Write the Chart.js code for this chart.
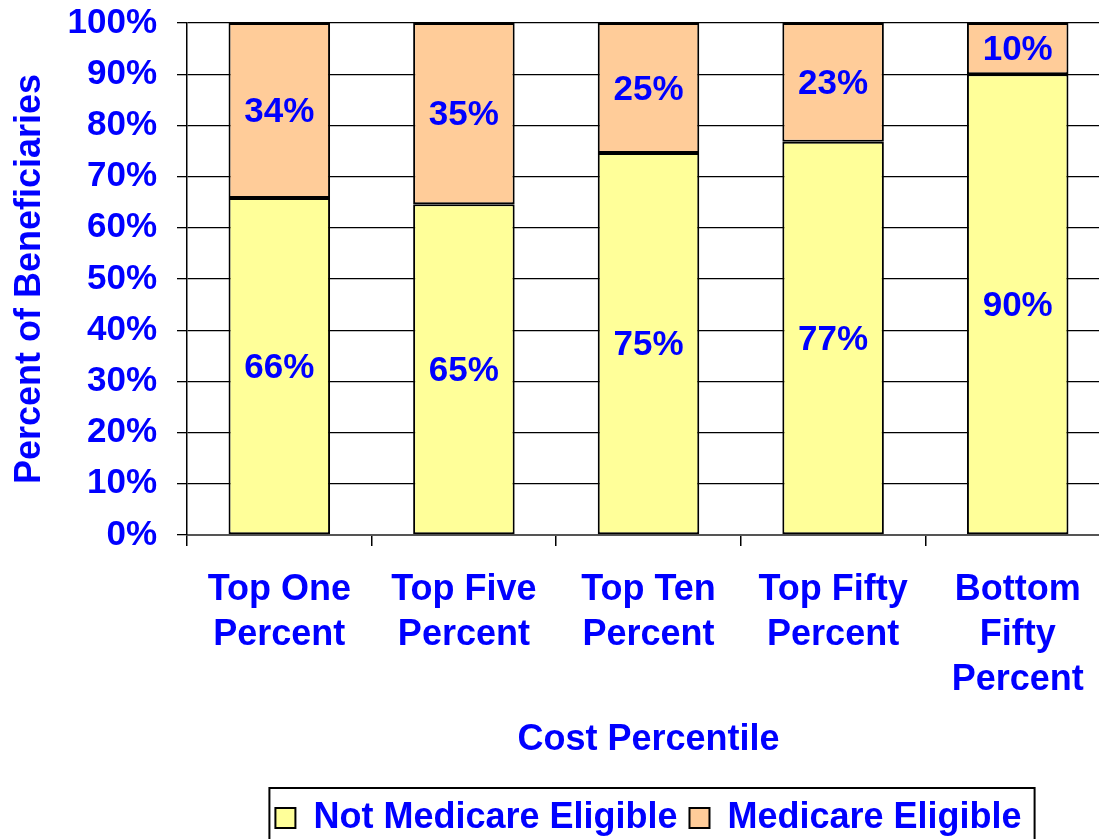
<!DOCTYPE html>
<html>
<head>
<meta charset="utf-8">
<script src="https://cdn.jsdelivr.net/npm/chart.js@4"></script>
<style>
  html, body { margin: 0; padding: 0; background: #fff; overflow: hidden; }
  #wrap { width: 1110px; height: 846px; }
</style>
</head>
<body>
<div id="wrap"><canvas id="chart"></canvas></div>
<script>
// values
var categories = [
  ['Top One', 'Percent'],
  ['Top Five', 'Percent'],
  ['Top Ten', 'Percent'],
  ['Top Fifty', 'Percent'],
  ['Bottom', 'Fifty', 'Percent']
];
var notEligible = [65.8, 64.6, 74.6, 76.8, 90.0];
var eligible = [34.2, 35.4, 25.4, 23.2, 10.0];
var yTicks = [0, 10, 20, 30, 40, 50, 60, 70, 80, 90, 100];

var FONT = '"Liberation Sans", Arial, sans-serif';
var BLUE = '#0000FF';

// percent labels in the middle of each segment
var barLabels = {
  id: 'barLabels',
  afterDatasetsDraw: function (chart) {
    var ctx = chart.ctx;
    ctx.save();
    ctx.font = 'bold 35px ' + FONT;
    ctx.fillStyle = BLUE;
    ctx.textAlign = 'center';
    ctx.textBaseline = 'middle';
    chart.data.datasets.forEach(function (ds, i) {
      chart.getDatasetMeta(i).data.forEach(function (bar, j) {
        ctx.fillText(Math.round(ds.data[j]) + '%', bar.x, (bar.y + bar.base) / 2 + 2);
      });
    });
    ctx.restore();
  }
};

// frame round the legend
var legendFrame = {
  id: 'legendFrame',
  afterDraw: function (chart) {
    var boxes = chart.legend.legendHitBoxes;
    if (!boxes || !boxes.length) return;
    var left = boxes[0].left - 6;
    var last = boxes[boxes.length - 1];
    var right = last.left + last.width + 13;
    var top = chart.legend.top;
    var ctx = chart.ctx;
    ctx.save();
    ctx.strokeStyle = '#000';
    ctx.lineWidth = 2;
    ctx.strokeRect(left, top, right - left, chart.height - top + 10);
    ctx.restore();
  }
};

var ctx = document.getElementById('chart');
new Chart(ctx, {
  type: 'bar',
  data: {
    labels: categories,
    datasets: [{
      label: 'Not Medicare Eligible',
      data: notEligible,
      backgroundColor: '#FFFF99',
      borderColor: '#000',
      borderWidth: 2,
      borderSkipped: false
    }, {
      label: 'Medicare Eligible',
      data: eligible,
      backgroundColor: '#FFCC99',
      borderColor: '#000',
      borderWidth: 2,
      borderSkipped: false
    }]
  },
  options: {
    responsive: true,
    maintainAspectRatio: false,
    animation: false,
    layout: { padding: { top: 23, left: 0, right: 0, bottom: 0 } },
    categoryPercentage: 1,
    barPercentage: 0.55,
    scales: {
      x: {
        stacked: true,
        grid: { offset: true, drawOnChartArea: false, tickLength: 11, color: '#000', lineWidth: 1.5 },
        border: { display: true, color: '#555', width: 2 },
        ticks: {
          color: BLUE,
          padding: 22,
          font: { family: FONT, size: 36, weight: 'bold', lineHeight: 1.25 },
          maxRotation: 0,
          autoSkip: false
        },
        title: {
          display: true,
          text: 'Cost Percentile',
          color: BLUE,
          font: { family: FONT, size: 36, weight: 'bold', lineHeight: 1.2 },
          padding: { top: 0, bottom: 26 }
        },
        afterFit: function (s) { s.height = 253; }
      },
      y: {
        stacked: true,
        min: 0,
        max: 100,
        afterBuildTicks: function (s) { s.ticks = yTicks.map(function (v) { return { value: v }; }); },
        grid: { color: '#000', lineWidth: 1.3, tickLength: 10 },
        border: { display: true, color: '#000', width: 1.5 },
        ticks: {
          color: BLUE,
          padding: 20,
          font: { family: FONT, size: 35, weight: 'bold', lineHeight: '6px' },
          callback: function (v) { return v + '%'; }
        },
        title: {
          display: true,
          text: 'Percent of Beneficiaries',
          color: BLUE,
          font: { family: FONT, size: 36, weight: 'bold', lineHeight: 1.2 },
          padding: { top: 8, bottom: 0 }
        },
        afterFit: function (s) { s.width = 187; }
      }
    },
    plugins: {
      tooltip: { enabled: false },
      legend: {
        position: 'bottom',
        fullSize: false,
        labels: {
          color: BLUE,
          boxWidth: 20,
          boxHeight: 20,
          padding: 12,
          font: { family: FONT, size: 36, weight: 'bold' }
        }
      }
    }
  },
  plugins: [barLabels, legendFrame]
});
</script>
</body>
</html>
